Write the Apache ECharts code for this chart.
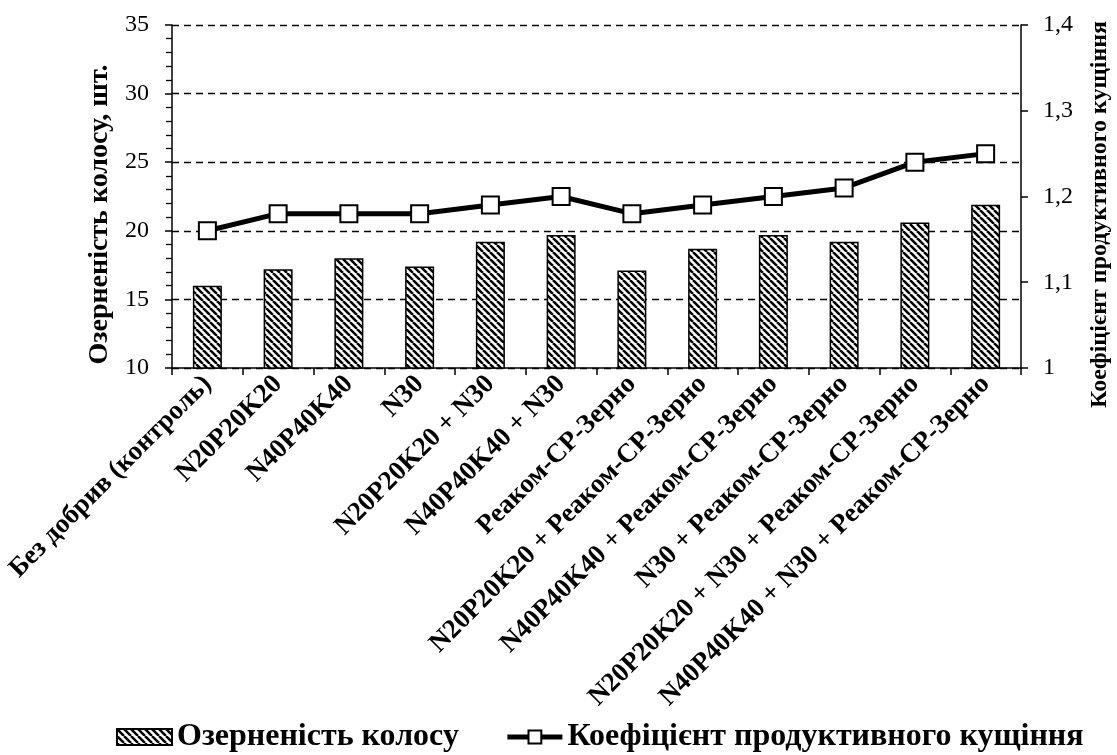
<!DOCTYPE html>
<html><head><meta charset="utf-8">
<script src="https://cdn.jsdelivr.net/npm/echarts@6/dist/echarts.min.js"></script>
<style>html,body{margin:0;padding:0;background:#fff}#c{width:1117px;height:755px}</style>
</head><body><div id="c"></div>
<script>
const categories = ['Без добрив (контроль)','N20P20K20','N40P40K40','N30','N20P20K20 + N30','N40P40K40 + N30','Реаком-СР-Зерно','N20P20K20 + Реаком-СР-Зерно','N40P40K40 + Реаком-СР-Зерно','N30 + Реаком-СР-Зерно','N20P20K20 + N30 + Реаком-СР-Зерно','N40P40K40 + N30 + Реаком-СР-Зерно'];
const grainValues = [16.0,17.2,18.0,17.4,19.2,19.7,17.1,18.7,19.7,19.2,20.6,21.9];
const tilleringValues = [1.16,1.18,1.18,1.18,1.19,1.20,1.18,1.19,1.20,1.21,1.24,1.25];
const leftTicks = [10,15,20,25,30,35];
const rightTicks = [1,1.1,1.2,1.3,1.4];

function hatch(){
  const s=7;
  const c=document.createElement('canvas');c.width=s;c.height=s;
  const x=c.getContext('2d');x.fillStyle='#fff';x.fillRect(0,0,s,s);
  x.strokeStyle='#000';x.lineWidth=2.5;
  x.beginPath();
  for(let k=-s;k<=s;k+=s){x.moveTo(k,0);x.lineTo(k+s,s);}
  x.stroke();return c;
}
const pat={image:hatch(),repeat:'repeat'};
const serif='"Liberation Serif","Times New Roman",serif';
const chart=echarts.init(document.getElementById('c'));
chart.setOption({
  animation:false,
  backgroundColor:'#fff',
  grid:{left:172,right:96,top:25,bottom:387,containLabel:false,outerBoundsMode:'none'},
  legend:{top:716,left:111,itemGap:46,itemWidth:55,itemHeight:16,
    textStyle:{fontFamily:serif,fontWeight:'bold',fontSize:32,color:'#000'},
    data:[{name:'Озерненість колосу',icon:'rect'},
          {name:'Коефіцієнт продуктивного кущіння',lineStyle:{width:5,color:'#000'}}]},
  xAxis:{type:'category',data:categories,
    axisLine:{lineStyle:{color:'#000',width:1.5}},
    axisTick:{show:true,alignWithLabel:false,length:7,lineStyle:{color:'#000',width:1.5}},
    axisLabel:{interval:0,rotate:45,fontFamily:serif,fontWeight:'bold',fontSize:27,color:'#000',margin:12}},
  yAxis:[{type:'value',min:10,max:35,interval:5,position:'left',
    name:'Озерненість колосу, шт.',nameLocation:'middle',nameGap:54,nameRotate:90,
    nameTextStyle:{fontFamily:serif,fontWeight:'bold',fontSize:28,color:'#000',padding:[0,36,0,0]},
    axisLine:{show:true,lineStyle:{color:'#000',width:1.5}},
    axisTick:{show:true,length:7,lineStyle:{color:'#000',width:1.5}},
    minorTick:{show:true,splitNumber:5,length:6,lineStyle:{color:'#000',width:1.3}},
    axisLabel:{fontFamily:serif,fontSize:24,color:'#000',margin:23},
    splitLine:{show:true,lineStyle:{color:'#000',type:[7,5],width:1.3}}},
   {type:'value',min:1,max:1.4,interval:0.1,position:'right',
    name:'Коефіцієнт продуктивного кущіння',nameLocation:'middle',nameGap:67,nameRotate:90,
    nameTextStyle:{fontFamily:serif,fontWeight:'bold',fontSize:24,color:'#000',padding:[0,36,0,0]},
    axisLine:{show:true,lineStyle:{color:'#000',width:1.5}},
    axisTick:{show:true,length:7,lineStyle:{color:'#000',width:1.5}},
    axisLabel:{fontFamily:serif,fontSize:24,color:'#000',margin:22,
      formatter:v=>{const r=Math.round(v*10)/10;return r===1?'1':String(r).replace('.',',');}},
    splitLine:{show:false}}],
  series:[
    {name:'Озерненість колосу',type:'bar',data:grainValues,barWidth:29,yAxisIndex:0,
     itemStyle:{color:pat,borderColor:'#000',borderWidth:1.5}},
    {name:'Коефіцієнт продуктивного кущіння',type:'line',data:tilleringValues,yAxisIndex:1,
     symbol:'rect',symbolSize:17,
     lineStyle:{color:'#000',width:5},
     itemStyle:{color:'#fff',borderColor:'#000',borderWidth:2}}
  ]
});
</script></body></html>
